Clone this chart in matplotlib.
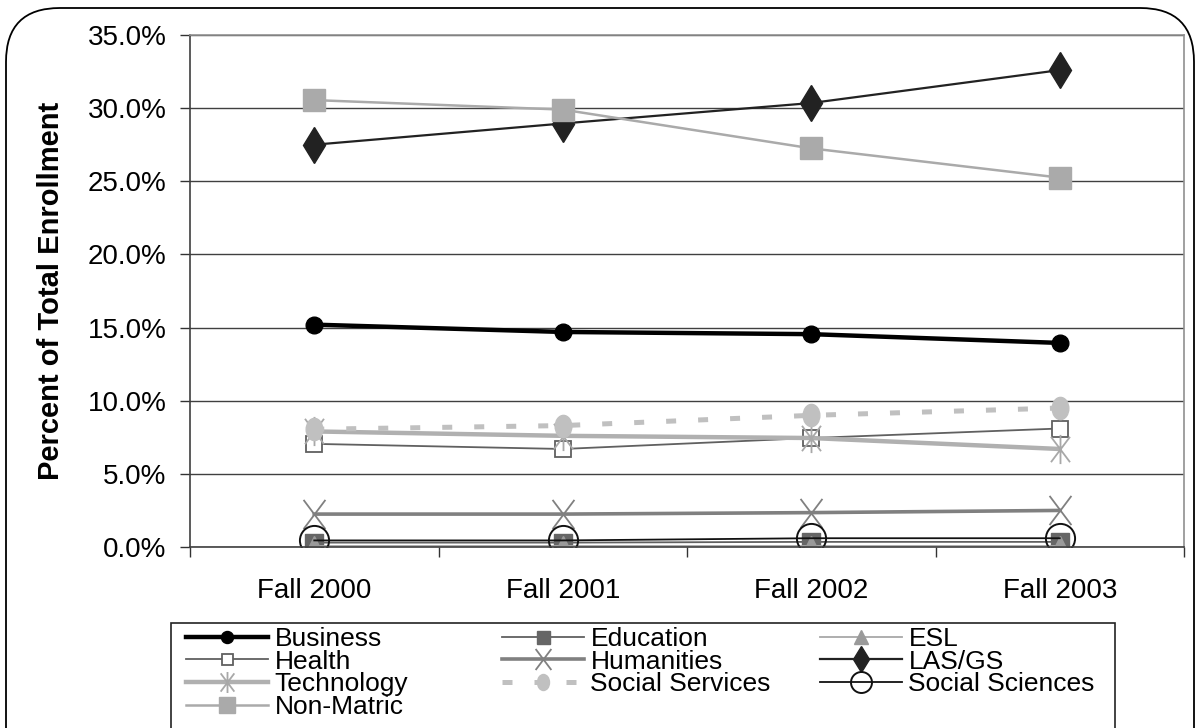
import numpy as np
import matplotlib
matplotlib.use("Agg")
import matplotlib.pyplot as plt
from matplotlib.path import Path
from matplotlib.markers import MarkerStyle
from matplotlib.transforms import Affine2D
from matplotlib.patches import FancyBboxPatch, Rectangle

plt.rcParams['font.family'] = ['Liberation Sans', 'DejaVu Sans']

# dados (% da matrícula total)
semestres = ["Fall 2000", "Fall 2001", "Fall 2002", "Fall 2003"]
business        = [15.2, 14.7, 14.55, 13.95]
education       = [0.3, 0.3, 0.35, 0.35]
esl             = [0.1, 0.1, 0.1, 0.1]
health          = [7.05, 6.7, 7.45, 8.1]
humanities      = [2.25, 2.25, 2.35, 2.5]
las_gs          = [27.5, 28.95, 30.35, 32.6]
technology      = [7.9, 7.6, 7.45, 6.7]
social_services = [8.05, 8.3, 9.0, 9.5]
social_sciences = [0.45, 0.45, 0.6, 0.6]
non_matric      = [30.55, 29.9, 27.25, 25.25]

yticks = [0, 5, 10, 15, 20, 25, 30, 35]

x = np.arange(len(semestres))

# marcadores especiais
asterisco = Path([(-0.75, -1), (0.75, 1), (-0.75, 1), (0.75, -1), (0, -1.15), (0, 1.15)],
                 [Path.MOVETO, Path.LINETO, Path.MOVETO, Path.LINETO, Path.MOVETO, Path.LINETO])
xis = Path([(-0.75, -1), (0.75, 1), (-0.75, 1), (0.75, -1)],
           [Path.MOVETO, Path.LINETO, Path.MOVETO, Path.LINETO])
elipse = MarkerStyle('o', transform=Affine2D().scale(0.75, 1.0))

W, H = 1196, 728
fig = plt.figure(figsize=(W/100, H/100), dpi=100)
ax = fig.add_axes([190/W, 1 - 547/H, (1184 - 190)/W, (547 - 35)/H])

# séries (ordem do Excel: a última fica por cima)
ln_bus, = ax.plot(x, business, color='black', lw=3.2, marker='o', ms=12,
                  mfc='black', mec='black', label='Business')
ln_edu, = ax.plot(x, education, color='#606060', lw=1.3, marker='s', ms=13,
                  mfc='#666666', mec='#666666', label='Education')
ln_esl, = ax.plot(x, esl, color='#a8a8a8', lw=1.3, marker='^', ms=14,
                  mfc='#9a9a9a', mec='#9a9a9a', label='ESL')
ln_hea, = ax.plot(x, health, color='#606060', lw=1.3, marker='s', ms=11,
                  mfc='white', mec='#606060', mew=1.3, label='Health')
ln_hum, = ax.plot(x, humanities, color='#808080', lw=2.6, marker=xis, ms=21,
                  mfc='none', mec='#808080', mew=1.3, label='Humanities')
ln_las, = ax.plot(x, las_gs, color='#222222', lw=1.6, marker='d', ms=18,
                  mfc='#222222', mec='#222222', label='LAS/GS')
ln_tec, = ax.plot(x, technology, color='#b0b0b0', lw=3.2, marker=asterisco, ms=21,
                  mfc='none', mec='#a8a8a8', mew=1.3, label='Technology')
ln_soc, = ax.plot(x, social_services, color='#c0c0c0', lw=3.6, ls=(0, (2.0, 4.4)),
                  marker=elipse, ms=16, mfc='#c0c0c0', mec='#c0c0c0', label='Social Services')
ln_ssc, = ax.plot(x, social_sciences, color='#111111', lw=1.3, marker='o', ms=21,
                  mfc='none', mec='#111111', mew=1.4, label='Social Sciences')
ln_non, = ax.plot(x, non_matric, color='#aaaaaa', lw=1.8, marker='s', ms=16,
                  mfc='#aaaaaa', mec='#aaaaaa', label='Non-Matric')

# eixos
ax.set_xlim(-0.5, len(semestres) - 0.5)
ax.set_ylim(0, 35)
ax.set_xticks(x)
ax.set_xticklabels(semestres, fontsize=20)
ax.set_xticks(np.arange(-0.5, len(semestres)), minor=True)
ax.tick_params(axis='x', which='major', length=0, pad=22)
ax.tick_params(axis='x', which='minor', length=7, width=1, color='#333333', direction='out')
ax.set_yticks(yticks)
ax.set_yticklabels([f"{v:.1f}%" for v in yticks], fontsize=20)
ax.tick_params(axis='y', length=7, width=1, color='#333333', direction='out', pad=10)
ax.grid(axis='y', color='#404040', lw=1)
ax.set_axisbelow(True)
ax.set_ylabel("Percent of Total Enrollment", fontsize=21, fontweight='bold', labelpad=16)

ax.spines['left'].set_color('#404040')
ax.spines['bottom'].set_color('#404040')
ax.spines['top'].set_color('#909090')
ax.spines['right'].set_color('#909090')
for s in ax.spines.values():
    s.set_linewidth(1.2)

# legenda: três colunas, preenchidas por linha como no Excel
colunas = [[ln_bus, ln_hea, ln_tec, ln_non],
           [ln_edu, ln_hum, ln_soc],
           [ln_esl, ln_las, ln_ssc]]
xcol = [186, 502, 820]
for xc, hs in zip(xcol, colunas):
    fig.legend(handles=hs, labels=[h.get_label() for h in hs], loc='upper left',
               bbox_to_anchor=(xc/W, 1 - 627/H), frameon=False, fontsize=19,
               borderaxespad=0, borderpad=0, handlelength=3.1, handletextpad=0.25,
               labelspacing=-0.05, markerscale=0.72)

fig.patches.append(Rectangle((171/W, -0.05), (1115 - 171)/W, (1 - 623/H) + 0.05,
                             transform=fig.transFigure, fill=False, ec='#222222', lw=1.2))

# borda arredondada do gráfico
fig.patches.append(FancyBboxPatch((6/W, -0.1), (1194 - 6)/W, (1 - 8/H) + 0.1,
                                  boxstyle="round,pad=0,rounding_size=0.045",
                                  mutation_aspect=W/H, transform=fig.transFigure,
                                  fill=False, ec='black', lw=1.3))

fig.savefig("out.png", dpi=100)
